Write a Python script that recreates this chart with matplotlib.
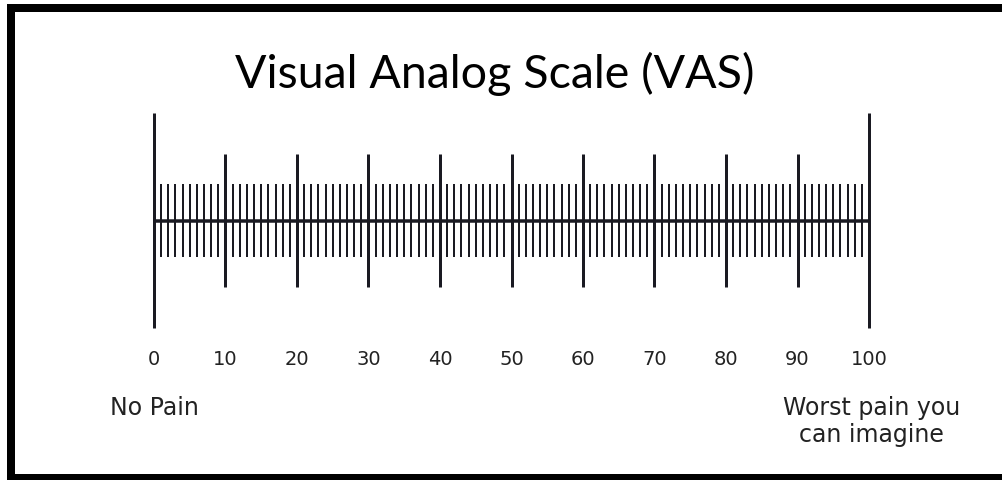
import matplotlib
matplotlib.use("Agg")
import matplotlib.pyplot as plt
import numpy as np

# ---- data ----
title = "Visual Analog Scale (VAS)"
scale_min = 0
scale_max = 100
minor_values = list(range(0, 101, 1))
major_values = list(range(10, 100, 10))
end_values = [0, 100]
tick_label_values = list(range(0, 101, 10))
tick_labels = [str(v) for v in tick_label_values]
left_anchor_label = ["No Pain"]
right_anchor_label = ["Worst pain you", "can imagine"]

# ---- style / layout ----
W, H, DPI = 1003, 480, 100
ink = "#1a1a22"
txt = "#222222"
px = 72.0 / DPI  # points per pixel

fig = plt.figure(figsize=(W / DPI, H / DPI), dpi=DPI)
fig.patch.set_facecolor("white")

# background axes in pixel coords for frame and text
bg = fig.add_axes([0, 0, 1, 1])
bg.set_xlim(0, W)
bg.set_ylim(H, 0)
bg.axis("off")

# frame (right side runs past the image edge)
bg.plot([11, 11], [4, 480], color="black", lw=8 * px, solid_capstyle="butt")
bg.plot([7, 1010], [8, 8], color="black", lw=8 * px, solid_capstyle="butt")
bg.plot([7, 1010], [477, 477], color="black", lw=7 * px, solid_capstyle="butt")

# scale axes: map 0 -> x=154 px, 100 -> x=869 px
x0_px, x1_px = 154, 869
ppu = (x1_px - x0_px) / (scale_max - scale_min)
ax = fig.add_axes([0, 0, 1, 1])
ax.set_xlim(scale_min - x0_px / ppu, scale_min + (W - x0_px) / ppu)
ax.set_ylim(H, 0)  # y in pixels, top down
ax.axis("off")
ax.patch.set_alpha(0)

yc = 220.5
minor_half, major_half, end_half = 36.5, 66.5, 107.5

ax.vlines([v for v in minor_values if v not in major_values and v not in end_values],
          yc - minor_half, yc + minor_half, color=ink, lw=2.0 * px)
ax.vlines(major_values, yc - major_half, yc + major_half, color=ink, lw=3.0 * px)
ax.vlines(end_values, yc - end_half, yc + end_half, color=ink, lw=3.0 * px)
ax.hlines(yc, scale_min, scale_max, color=ink, lw=3.5 * px)

for v, lab in zip(tick_label_values, tick_labels):
    ax.text(v, 365, lab, ha="center", va="baseline", fontsize=14,
            family="DejaVu Sans", color=txt)

for i, line in enumerate(left_anchor_label):
    ax.text(scale_min, 415 + 27 * i, line, ha="center", va="baseline",
            fontsize=17, family="DejaVu Sans", color=txt)
for i, line in enumerate(right_anchor_label):
    ax.text(scale_max + 0.3, 415 + 27 * i, line, ha="center", va="baseline",
            fontsize=17, family="DejaVu Sans", color=txt)

bg.text(495, 88, title, ha="center", va="baseline", fontsize=33.5,
        family="Lato", color="black")

fig.savefig("out.png", dpi=DPI)
